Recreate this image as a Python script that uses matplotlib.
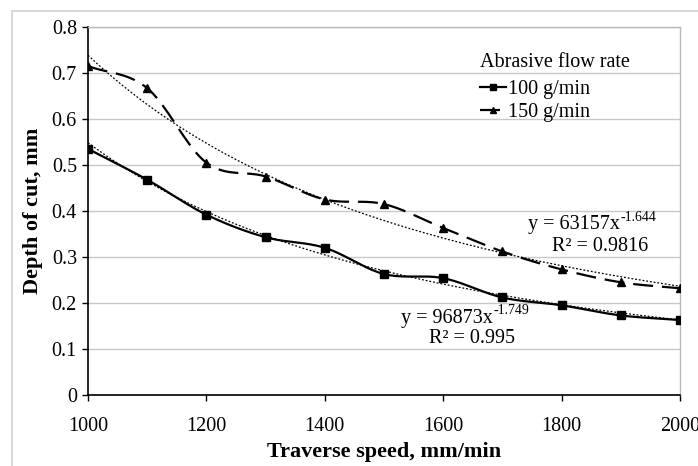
import numpy as np
import matplotlib.pyplot as plt
from matplotlib.patches import Rectangle

# Data
speed = [1000, 1100, 1200, 1300, 1400, 1500, 1600, 1700, 1800, 1900, 2000]
depth_100 = [0.535, 0.468, 0.392, 0.343, 0.320, 0.263, 0.254, 0.212, 0.195, 0.173, 0.163]
depth_150 = [0.715, 0.667, 0.505, 0.475, 0.425, 0.415, 0.363, 0.312, 0.273, 0.245, 0.232]

# Power-law trendlines shown on the chart
fit_100 = (96873, -1.749, 0.995)
fit_150 = (63157, -1.644, 0.9816)


def smooth(x, y, n=20):
    # Catmull-Rom curve through the points (like Excel smoothed lines)
    x = np.asarray(x, float)
    y = np.asarray(y, float)
    px = np.concatenate([[2 * x[0] - x[1]], x, [2 * x[-1] - x[-2]]])
    py = np.concatenate([[2 * y[0] - y[1]], y, [2 * y[-1] - y[-2]]])
    xs, ys = [], []
    t = np.linspace(0, 1, n, endpoint=False)
    for i in range(1, len(px) - 2):
        for p, out in ((px, xs), (py, ys)):
            p0, p1, p2, p3 = p[i - 1], p[i], p[i + 1], p[i + 2]
            out.extend(0.5 * (2 * p1 + (-p0 + p2) * t
                              + (2 * p0 - 5 * p1 + 4 * p2 - p3) * t ** 2
                              + (-p0 + 3 * p1 - 3 * p2 + p3) * t ** 3))
    xs.append(x[-1])
    ys.append(y[-1])
    return np.array(xs), np.array(ys)


def equation(ax, x, y, rx, ry, fit):
    # "y = Ax^b" with a plain hyphen in the exponent, then R² below
    base = ax.text(x, y, f'y = {fit[0]}x', fontsize=14.5, ha='right', va='center')
    ax.annotate(f'{fit[1]}', xy=(1, 0.5), xycoords=base, xytext=(0.5, 0.5),
                textcoords='offset points', fontsize=10, ha='left', va='bottom')
    ax.text(rx, ry, f'R² = {fit[2]}', fontsize=14.5, ha='center', va='center')


plt.rcParams['font.family'] = ['Liberation Serif', 'DejaVu Serif']

fig = plt.figure(figsize=(6.98, 4.66), dpi=100)
ax = fig.add_axes([88 / 698, 1 - 395 / 466, (680 - 88) / 698, (395 - 27) / 466])

# outer light frame
fig.patches.append(Rectangle((12 / 698, -0.1), 1.2, 1 - 11 / 466 + 0.1,
                             transform=fig.transFigure, fill=False,
                             edgecolor='#d0d0d0', linewidth=1.2))

xs, ys = smooth(speed, depth_100)
ax.plot(xs, ys, color='black', lw=1.6, zorder=3)
ax.plot(speed, depth_100, ls='none', marker='s', ms=6, color='black', zorder=4)

xs, ys = smooth(speed, depth_150)
ax.plot(xs, ys, color='black', lw=1.6, dashes=(9, 4), zorder=3)
ax.plot(speed, depth_150, ls='none', marker='^', ms=6, color='black', zorder=4)

xf = np.linspace(1000, 2000, 200)
ax.plot(xf, fit_100[0] * xf ** fit_100[1], color='black', lw=0.9, dashes=(1.5, 1.5), zorder=2)
ax.plot(xf, fit_150[0] * xf ** fit_150[1], color='black', lw=0.9, dashes=(1.5, 1.5), zorder=2)

# legend built from proxy handles
h1, = ax.plot([], [], color='black', lw=1.6, marker='s', ms=5)
h2, = ax.plot([], [], color='black', lw=1.6, marker='^', ms=5, dashes=(9, 4))
leg = ax.legend([h1, h2], ['100 g/min', '150 g/min'], title='Abrasive flow rate',
                loc='upper left', bbox_to_anchor=(0.662, 0.93), frameon=False,
                fontsize=14.5, title_fontsize=14.5, handlelength=1.3,
                handletextpad=0.1, labelspacing=0.2, borderaxespad=0, borderpad=0)
leg._legend_box.align = 'left'
leg._legend_box.sep = 6

equation(ax, 1899, 0.370, 1865, 0.322, fit_150)
equation(ax, 1684, 0.167, 1649, 0.122, fit_100)

ax.set_xlim(1000, 2000)
ax.set_ylim(0, 0.8)
ax.set_xticks(np.arange(1000, 2001, 200))
ax.set_yticks(np.arange(0, 0.81, 0.1))
ax.set_yticklabels(['0'] + [f'{v:.1f}' for v in np.arange(0.1, 0.81, 0.1)])
ax.tick_params(labelsize=14.5, direction='out', length=4, width=1, color='black')
ax.tick_params(axis='x', pad=12)
ax.tick_params(axis='y', pad=4)
ax.grid(axis='y', color='#c8c8c8', lw=1)
ax.set_axisbelow(True)
for s in ('left', 'bottom'):
    ax.spines[s].set_color('black')
    ax.spines[s].set_linewidth(1.2)
for s in ('top', 'right'):
    ax.spines[s].set_color('#b8b8b8')
    ax.spines[s].set_linewidth(1)

ax.set_xlabel('Traverse speed, mm/min', fontsize=16, fontweight='bold', labelpad=4)
ax.set_ylabel('Depth of cut, mm', fontsize=16, fontweight='bold', labelpad=6)

fig.savefig('out.png', dpi=100)
